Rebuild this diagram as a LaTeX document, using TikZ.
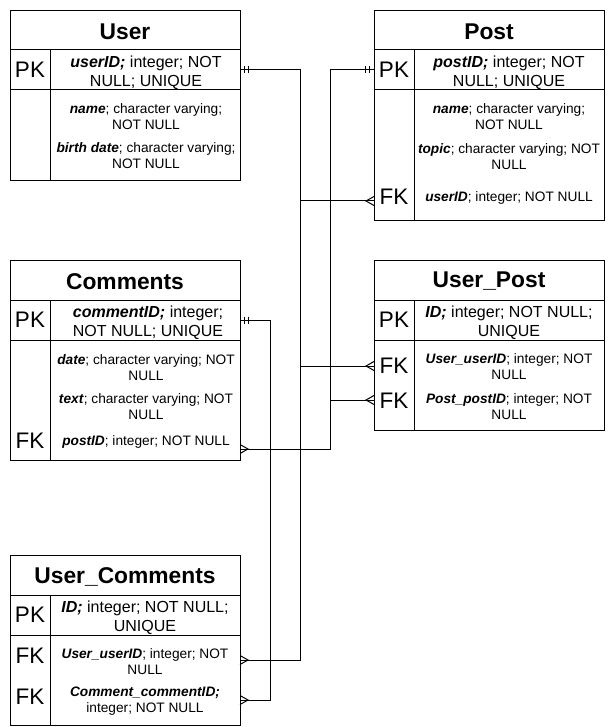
\documentclass[tikz,border=0pt]{standalone}
\usepackage{fontspec}
\setmainfont{Liberation Sans}
\begin{document}
\begin{tikzpicture}[x=1pt,y=-1pt, line width=1pt,
  frame/.style={draw, line width=1pt, anchor=north west, minimum width=230pt, inner sep=0pt},
  ttl/.style={font=\fontsize{22.8}{26}\selectfont\bfseries, yshift=-1.5pt},
  key/.style={font=\fontsize{22.5}{26}\selectfont},
  pkt/.style={font=\fontsize{16}{18.5}\selectfont, align=center, inner sep=0pt, yshift=-1.5pt},
  att/.style={font=\fontsize{13.7}{16}\selectfont, align=center, inner sep=0pt, yshift=-1pt},
  oneR/.pic={\draw[line width=1pt] (4.7,-3.5) -- (4.7,3.5) (8.3,-3.5) -- (8.3,3.5);},
  oneL/.pic={\draw[line width=1pt] (-4.7,-3.5) -- (-4.7,3.5) (-8.3,-3.5) -- (-8.3,3.5);},
  manyL/.pic={\draw[line width=1pt] (0,-4.5) -- (-8,0) -- (0,4.5);},
  manyR/.pic={\draw[line width=1pt] (0,-4.5) -- (8,0) -- (0,4.5);},
]
\useasboundingbox (0,0) rectangle (612,727);

% ---------- User ----------
\node[frame, minimum height=170pt] (user) at (10,10) {};
\draw (10,50) -- (240,50) (10,90) -- (240,90) (50,50) -- (50,180);
\node[ttl] (userT) at (125,30) {User};
\node[key] (userPKl) at (30,70) {PK};
\node[pkt] (userPKt) at (146,71) {\textbf{\textit{userID;}} integer; NOT\\NULL; UNIQUE};
\node[att] (userName) at (146,116) {\textbf{\textit{name}}; character varying;\\NOT NULL};
\node[att] (userBirth) at (146,155) {\textbf{\textit{birth date}}; character varying;\\NOT NULL};

% ---------- Post ----------
\node[frame, minimum height=210pt] (post) at (374,10) {};
\draw (374,50) -- (604,50) (374,90) -- (604,90) (414,50) -- (414,220);
\node[ttl] (postT) at (489,30) {Post};
\node[key] (postPKl) at (394,70) {PK};
\node[pkt] (postPKt) at (509,71) {\textbf{\textit{postID;}} integer; NOT\\NULL; UNIQUE};
\node[att] (postName) at (509,116) {\textbf{\textit{name}}; character varying;\\NOT NULL};
\node[att] (postTopic) at (509,156) {\textbf{\textit{topic}}; character varying; NOT\\NULL};
\node[key] (postFKl) at (394,197) {FK};
\node[att] (postUser) at (509,197) {\textbf{\textit{userID}}; integer; NOT NULL};

% ---------- Comments ----------
\node[frame, minimum height=200pt] (comm) at (10,260) {};
\draw (10,300) -- (240,300) (10,340) -- (240,340) (50,300) -- (50,460);
\node[ttl] (commT) at (125,280) {Comments};
\node[key] (commPKl) at (30,320) {PK};
\node[pkt] (commPKt) at (148,321) {\textbf{\textit{commentID;}} integer;\\NOT NULL; UNIQUE};
\node[att] (commDate) at (146,367) {\textbf{\textit{date}}; character varying; NOT\\NULL};
\node[att] (commText) at (146,406) {\textbf{\textit{text}}; character varying; NOT\\NULL};
\node[key] (commFKl) at (30,441) {FK};
\node[att] (commPost) at (146,441) {\textbf{\textit{postID}}; integer; NOT NULL};

% ---------- User_Post ----------
\node[frame, minimum height=170pt] (up) at (374,260) {};
\draw (374,300) -- (604,300) (374,340) -- (604,340) (414,300) -- (414,430);
\node[ttl] (upT) at (489,280) {User\_Post};
\node[key] (upPKl) at (394,320) {PK};
\node[pkt] (upPKt) at (509,321) {\textbf{\textit{ID;}} integer; NOT NULL;\\UNIQUE};
\node[key] (upFK1) at (394,366) {FK};
\node[att] (upUser) at (509,366) {\textbf{\textit{User\_userID}}; integer; NOT\\NULL};
\node[key] (upFK2) at (394,401) {FK};
\node[att] (upPost) at (509,406) {\textbf{\textit{Post\_postID}}; integer; NOT\\NULL};

% ---------- User_Comments ----------
\node[frame, minimum height=170pt] (uc) at (10,555) {};
\draw (10,595) -- (240,595) (10,635) -- (240,635) (50,595) -- (50,725);
\node[ttl] (ucT) at (125,575) {User\_Comments};
\node[key] (ucPKl) at (30,615) {PK};
\node[pkt] (ucPKt) at (145,616) {\textbf{\textit{ID;}} integer; NOT NULL;\\UNIQUE};
\node[key] (ucFK1) at (30,656) {FK};
\node[att] (ucUser) at (145,661) {\textbf{\textit{User\_userID}}; integer; NOT\\NULL};
\node[key] (ucFK2) at (30,697) {FK};
\node[att] (ucComm) at (145,700) {\textbf{\textit{Comment\_commentID;}}\\integer; NOT NULL};

% ---------- attachment points ----------
\coordinate (uPK) at (240,70);
\coordinate (pFK) at (374,201);
\coordinate (upU) at (374,366);
\coordinate (ucU) at (240,660);
\coordinate (pPK) at (374,70);
\coordinate (cFK) at (240,449);
\coordinate (upP) at (374,400);
\coordinate (cPK) at (240,320);
\coordinate (ucC) at (240,700);

% ---------- connectors ----------
\draw (uPK) -- ++(60,0) |- (pFK);
\draw (uPK) -- ++(60,0) |- (upU);
\draw (uPK) -- ++(60,0) |- (ucU);
\draw (pPK) -- ++(-44,0) |- (cFK);
\draw (pPK) -- ++(-44,0) |- (upP);
\draw (cPK) -- ++(30,0) |- (ucC);

% ---------- markers ----------
\pic at (uPK) {oneR};
\pic at (cPK) {oneR};
\pic at (pPK) {oneL};
\pic at (pFK) {manyL};
\pic at (upU) {manyL};
\pic at (upP) {manyL};
\pic at (cFK) {manyR};
\pic at (ucU) {manyR};
\pic at (ucC) {manyR};
\end{tikzpicture}
\end{document}
